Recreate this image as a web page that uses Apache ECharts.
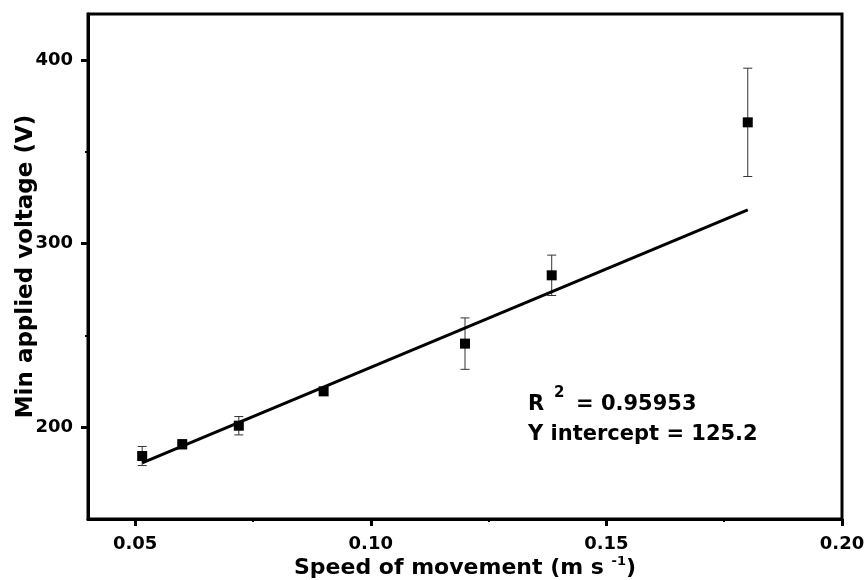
<!DOCTYPE html>
<html>
<head>
<meta charset="utf-8">
<script src="https://cdn.jsdelivr.net/npm/echarts@6/dist/echarts.min.js"></script>
<style>
  html, body { margin: 0; padding: 0; background: #fff; }
  #chart { width: 864px; height: 580px; }
</style>
</head>
<body>
<div id="chart"></div>
<script>
// measured points
const speeds = [0.0515, 0.060, 0.072, 0.090, 0.120, 0.1384, 0.180];
const voltages = [184.3, 190.7, 200.8, 219.5, 245.5, 282.7, 366.0];
const errors = [5.2, 2.5, 5.0, 2.0, 14.0, 11.0, 29.5];

// linear fit, end points as drawn
const fitX = [0.0515, 0.180];
const fitY = [180.5, 318.3];

// axis ticks
const xMajor = [0.05, 0.10, 0.15, 0.20];
const xMinor = [0.075, 0.125, 0.175];
const yMajor = [200, 300, 400];
const yMinor = [250, 350];

const FONT = 'DejaVu Sans';

const points = speeds.map((s, i) => [s, voltages[i]]);
const bars = speeds.map((s, i) => [s, voltages[i] - errors[i], voltages[i] + errors[i]]);
const fitLine = fitX.map((x, i) => [x, fitY[i]]);

const labelStyle = {
  fontFamily: FONT, fontSize: 18, fontWeight: 'bold', color: '#000'
};

const option = {
  animation: false,
  backgroundColor: '#fff',
  grid: {
    left: 88, right: 22, top: 14, bottom: 61,
    outerBoundsMode: 'none',
    show: true, borderColor: '#000', borderWidth: 3
  },
  xAxis: [
    {
      type: 'value', min: 0.04, max: 0.20, position: 'bottom',
      axisLine: { lineStyle: { color: '#000', width: 3 } },
      axisTick: { customValues: xMajor, length: 7, lineStyle: { color: '#000', width: 3 } },
      axisLabel: Object.assign({
        customValues: xMajor, margin: 16,
        formatter: v => v.toFixed(2)
      }, labelStyle),
      splitLine: { show: false },
      name: '{n|Speed of movement (m s }{s|-1}{n|)}',
      nameLocation: 'middle', nameGap: 36, nameMoveOverlap: false,
      nameTextStyle: {
        rich: {
          n: { fontFamily: FONT, fontSize: 22, fontWeight: 'bold', color: '#000' },
          s: { fontFamily: FONT, fontSize: 13, fontWeight: 'bold', color: '#000', padding: [0, 0, 14, 0] }
        }
      }
    },
    {
      type: 'value', min: 0.04, max: 0.20, position: 'bottom',
      axisLine: { show: false },
      axisTick: { customValues: xMinor, length: 3, lineStyle: { color: '#000', width: 2 } },
      axisLabel: { show: false },
      splitLine: { show: false }
    }
  ],
  yAxis: [
    {
      type: 'value', min: 150, max: 425, position: 'left',
      axisLine: { lineStyle: { color: '#000', width: 3 } },
      axisTick: { customValues: yMajor, length: 7, lineStyle: { color: '#000', width: 3 } },
      axisLabel: Object.assign({ customValues: yMajor, margin: 15 }, labelStyle),
      splitLine: { show: false },
      name: 'Min applied voltage (V)',
      nameLocation: 'middle', nameGap: 50, nameMoveOverlap: false,
      nameTextStyle: { fontFamily: FONT, fontSize: 23, fontWeight: 'bold', color: '#000' }
    },
    {
      type: 'value', min: 150, max: 425, position: 'left',
      axisLine: { show: false },
      axisTick: { customValues: yMinor, length: 3, lineStyle: { color: '#000', width: 2 } },
      axisLabel: { show: false },
      splitLine: { show: false }
    }
  ],
  series: [
    {
      type: 'custom',
      data: bars,
      z: 1,
      renderItem: function (params, api) {
        const x = api.value(0);
        const lo = api.coord([x, api.value(1)]);
        const hi = api.coord([x, api.value(2)]);
        const w = 4.5;
        const st = { stroke: '#333', lineWidth: 1 };
        return {
          type: 'group',
          children: [
            { type: 'line', shape: { x1: lo[0], y1: lo[1], x2: hi[0], y2: hi[1] }, style: st },
            { type: 'line', shape: { x1: lo[0] - w, y1: lo[1], x2: lo[0] + w, y2: lo[1] }, style: st },
            { type: 'line', shape: { x1: hi[0] - w, y1: hi[1], x2: hi[0] + w, y2: hi[1] }, style: st }
          ]
        };
      }
    },
    {
      type: 'scatter',
      data: points,
      symbol: 'rect',
      symbolSize: 10,
      itemStyle: { color: '#000', opacity: 1 },
      z: 3
    },
    {
      type: 'line',
      data: fitLine,
      symbol: 'none',
      lineStyle: { color: '#000', width: 3 },
      z: 2
    }
  ],
  graphic: [
    {
      type: 'text', left: 528, top: 394,
      style: { text: 'R', font: 'bold 21px "DejaVu Sans"', fill: '#000' }
    },
    {
      type: 'text', left: 554, top: 386,
      style: { text: '2', font: 'bold 15px "DejaVu Sans"', fill: '#000' }
    },
    {
      type: 'text', left: 576, top: 394,
      style: { text: '= 0.95953', font: 'bold 21px "DejaVu Sans"', fill: '#000' }
    },
    {
      type: 'text', left: 528, top: 424,
      style: { text: 'Y intercept = 125.2', font: 'bold 21px "DejaVu Sans"', fill: '#000' }
    }
  ]
};

const myChart = echarts.init(document.getElementById('chart'));
myChart.setOption(option);
</script>
</body>
</html>
